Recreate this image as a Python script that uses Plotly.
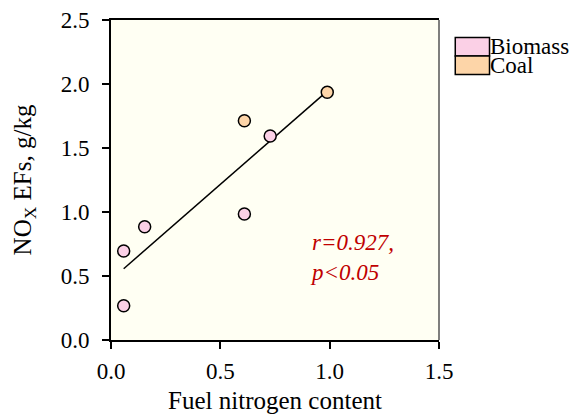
import numpy as np
import plotly.graph_objects as go

# Fuel nitrogen content vs. NOx emission factors, by fuel type
groups = ["Biomass", "Coal"]
biomass_n = [0.058, 0.058, 0.154, 0.610, 0.728]
biomass_nox = [0.268, 0.695, 0.885, 0.984, 1.594]
coal_n = [0.610, 0.989]
coal_nox = [1.713, 1.935]
fills = ["#FBD0E6", "#FDD5A8"]
stats_text = "<i>r=0.927,<br>p&lt;0.05</i>"

serif = "Liberation Serif"

fig = go.Figure()

# Least-squares line through all samples
all_n = np.array(biomass_n + coal_n)
all_nox = np.array(biomass_nox + coal_nox)
slope, intercept = np.polyfit(all_n, all_nox, 1)
fit_x = np.array([all_n.min(), all_n.max()])
fig.add_trace(go.Scatter(x=fit_x, y=slope * fit_x + intercept, mode="lines",
                         line=dict(color="black", width=1.5),
                         showlegend=False, hoverinfo="skip"))

for name, xs, ys, col in zip(groups, [biomass_n, coal_n], [biomass_nox, coal_nox], fills):
    fig.add_trace(go.Scatter(x=xs, y=ys, mode="markers", name=name,
                             marker=dict(size=12, color=col,
                                         line=dict(color="black", width=1.5)),
                             showlegend=False))

# Legend drawn as filled boxes to the right of the plot
box_x0, box_x1 = 1.0496, 1.154
box_top, box_h = 0.945, 0.0575
shapes = []
annotations = []
for i, (name, col) in enumerate(zip(groups, fills)):
    y1 = box_top - i * box_h
    y0 = y1 - box_h
    shapes.append(dict(type="rect", xref="paper", yref="paper",
                       x0=box_x0, x1=box_x1, y0=y0, y1=y1,
                       fillcolor=col, line=dict(color="black", width=1.5)))
    annotations.append(dict(xref="paper", yref="paper", x=box_x1, y=(y0 + y1) / 2,
                            text=name, showarrow=False, xanchor="left", yanchor="middle",
                            xshift=-1, borderpad=0,
                            font=dict(family=serif, size=23, color="black")))

# Right frame edge in grey
shapes.append(dict(type="line", xref="paper", yref="paper", x0=1, x1=1, y0=0, y1=1,
                   line=dict(color="#555555", width=1.5)))

annotations.append(dict(x=0.903, y=0.648, xref="x", yref="y", text=stats_text,
                        showarrow=False, xanchor="left", yanchor="middle", align="left",
                        font=dict(family=serif, size=23, color="#C00000")))

fig.update_layout(
    width=577, height=414,
    margin=dict(l=110.5, r=138, t=20, b=74),
    paper_bgcolor="white", plot_bgcolor="#FFFFF3",
    font=dict(family=serif, size=23, color="black"),
    shapes=shapes, annotations=annotations,
    xaxis=dict(range=[0, 1.5], tickvals=[0, 0.5, 1.0, 1.5], tickformat=".1f",
               showgrid=False, zeroline=False, showline=True, linecolor="black",
               linewidth=2, mirror=True, ticks="outside", ticklen=7, tickwidth=1.5,
               tickcolor="black", tickfont=dict(size=23), ticklabelstandoff=2,
               automargin=False,
               title=dict(text="Fuel nitrogen content", standoff=10, font=dict(size=25))),
    yaxis=dict(range=[0, 2.5], tickvals=[0, 0.5, 1.0, 1.5, 2.0, 2.5], tickformat=".1f",
               showgrid=False, zeroline=False, showline=True, linecolor="black",
               linewidth=2, ticks="outside", ticklen=7, tickwidth=1.5,
               tickcolor="black", tickfont=dict(size=23), ticklabelstandoff=8,
               automargin=False,
               title=dict(text="NO<sub>X</sub> EFs, g/kg", standoff=22, font=dict(size=25))),
)

fig.write_html("out.html")
